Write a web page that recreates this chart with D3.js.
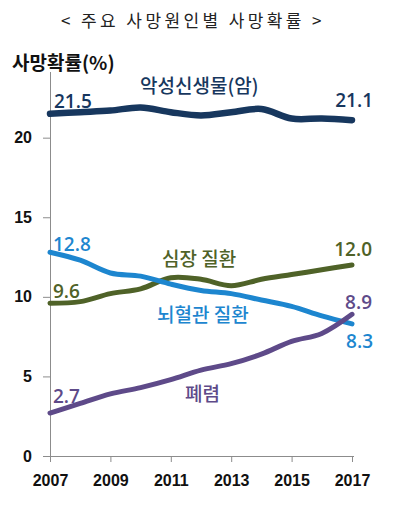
<!DOCTYPE html>
<html>
<head>
<meta charset="utf-8">
<script src="https://cdn.jsdelivr.net/npm/d3@7"></script>
<style>
    body { margin: 0; background: #fff; }
    svg { display: block; }
    .axis path, .axis line { stroke: #8c8c8c; }
    .axis text { font-family: "Liberation Sans", Arial, sans-serif; font-weight: bold; font-size: 16px; fill: #111; }
</style>
</head>
<body>
<div id="chart"></div>
<script>
const years = [2007, 2008, 2009, 2010, 2011, 2012, 2013, 2014, 2015, 2016, 2017];
const cancer = [21.5, 21.6, 21.7, 21.9, 21.6, 21.4, 21.6, 21.8, 21.2, 21.2, 21.1];
const heart = [9.6, 9.7, 10.2, 10.5, 11.2, 11.1, 10.7, 11.1, 11.4, 11.7, 12.0];
const cerebro = [12.8, 12.3, 11.5, 11.3, 10.8, 10.4, 10.2, 9.8, 9.4, 8.8, 8.3];
const pneumonia = [2.7, 3.3, 3.9, 4.3, 4.8, 5.4, 5.8, 6.4, 7.2, 7.7, 8.9];
const series_names = ["악성신생물(암)", "심장 질환", "뇌혈관 질환", "폐렴"];
const x_ticks = [2007, 2009, 2011, 2013, 2015, 2017];
const y_ticks = [0, 5, 10, 15, 20];
const title = "< 주요 사망원인별 사망확률 >";
const y_title = "사망확률(%)";

const svg_width = 394, svg_height = 528;

let x = d3.scaleLinear()
    .domain([2007, 2017])
    .range([50, 352]);
let y = d3.scaleLinear()
    .domain([0, 24])
    .range([456, 74]);

let svg = d3.select("#chart").append("svg")
    .attr("width", svg_width)
    .attr("height", svg_height);

svg.append("text")
    .attr("x", 193)
    .attr("y", 27)
    .attr("text-anchor", "middle")
    .style("font-family", "'Noto Sans CJK KR', sans-serif")
    .style("font-size", "17px")
    .style("letter-spacing", "3.4px")
    .style("fill", "#222")
    .text(title);

svg.append("text")
    .attr("x", 12)
    .attr("y", 70)
    .style("font-family", "'Noto Sans CJK KR', sans-serif")
    .style("font-weight", "bold")
    .style("font-size", "19px")
    .style("fill", "#111")
    .text(y_title);

// axes
let x_axis = svg.append("g")
    .attr("class", "axis")
    .attr("transform", "translate(0," + y(0) + ")")
    .call(d3.axisBottom(x)
        .tickValues(x_ticks)
        .tickFormat(d3.format("d"))
        .tickSize(6)
        .tickSizeOuter(0)
        .tickPadding(13));
x_axis.select(".domain").attr("d", "M43,0.5H354");

let y_axis = svg.append("g")
    .attr("class", "axis")
    .attr("transform", "translate(50,0)")
    .call(d3.axisLeft(y)
        .tickValues(y_ticks)
        .tickSize(7)
        .tickSizeOuter(0)
        .tickPadding(11));
y_axis.select(".domain").attr("d", "M0.5," + y(0) + "V72");

// lines
const series = [
    {name: series_names[1], values: heart, color: "#4f6228", width: 5,
     first: {dx: 3, dy: -5}, last: {dx: 20, dy: -9},
     label: {x: 162, y: 266}},
    {name: series_names[2], values: cerebro, color: "#1d86cf", width: 5,
     first: {dx: 3, dy: -1}, last: {dx: 21, dy: 24},
     label: {x: 157, y: 322}},
    {name: series_names[3], values: pneumonia, color: "#5e4a89", width: 5,
     first: {dx: 3, dy: -10}, last: {dx: 20, dy: -5},
     label: {x: 185, y: 401}},
    {name: series_names[0], values: cancer, color: "#17375e", width: 6.5,
     first: {dx: 4, dy: -6}, last: {dx: 21, dy: -13},
     label: {x: 140, y: 93}}
];

let line = d3.line()
    .x((_, i) => x(years[i]))
    .y(v => y(v))
    .curve(d3.curveCatmullRom.alpha(0.5));

for (const s of series) {
    svg.append("path")
        .attr("d", line(s.values))
        .attr("fill", "none")
        .attr("stroke", s.color)
        .attr("stroke-width", s.width)
        .attr("stroke-linecap", "round");
}

const num_font = "'Open Sans', 'Noto Sans CJK KR', sans-serif";
for (const s of series) {
    const n = s.values.length;
    svg.append("text")
        .attr("x", x(years[0]) + s.first.dx)
        .attr("y", y(s.values[0]) + s.first.dy)
        .style("font-family", num_font)
        .style("font-size", "19px")
        .style("font-weight", 600)
        .style("fill", s.color)
        .text(d3.format(".1f")(s.values[0]));
    svg.append("text")
        .attr("x", x(years[n - 1]) + s.last.dx)
        .attr("y", y(s.values[n - 1]) + s.last.dy)
        .attr("text-anchor", "end")
        .style("font-family", num_font)
        .style("font-size", "19px")
        .style("font-weight", 600)
        .style("fill", s.color)
        .text(d3.format(".1f")(s.values[n - 1]));
    svg.append("text")
        .attr("x", s.label.x)
        .attr("y", s.label.y)
        .style("font-family", "'Noto Sans CJK KR', sans-serif")
        .style("font-size", "19px")
        .style("font-weight", 500)
        .style("fill", s.color)
        .text(s.name);
}
</script>
</body>
</html>
